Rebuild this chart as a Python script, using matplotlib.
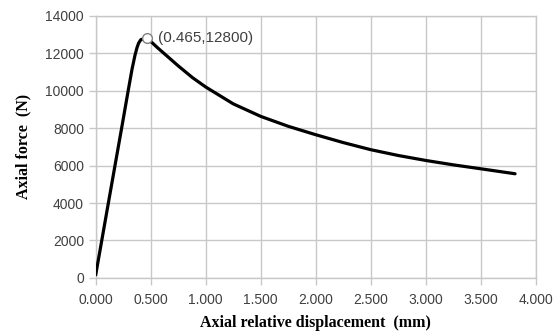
import matplotlib.pyplot as plt

# displacement (mm) and axial force (N)
disp = [0.0, 0.115, 0.24, 0.295, 0.33, 0.357, 0.375, 0.39, 0.41, 0.44, 0.465,
        0.49, 0.52, 0.56, 0.63, 0.75, 0.88, 1.00, 1.25, 1.50, 1.75,
        2.00, 2.25, 2.50, 2.75, 3.00, 3.25, 3.50, 3.81]
force = [160, 4000, 8150, 10000, 11150, 11900, 12300, 12550, 12730, 12790, 12800,
         12690, 12530, 12310, 11950, 11330, 10700, 10200, 9300, 8630, 8100,
         7650, 7230, 6850, 6540, 6275, 6040, 5830, 5565]

peak_x, peak_y = 0.465, 12800

xticks = [0, 0.5, 1.0, 1.5, 2.0, 2.5, 3.0, 3.5, 4.0]
yticks = list(range(0, 14001, 2000))

fig = plt.figure(figsize=(5.58, 3.32), dpi=100)
ax = fig.add_axes([0.1715, 0.163, 0.789, 0.789])

ax.plot(disp, force, color='black', lw=2.3, solid_capstyle='round',
        solid_joinstyle='round', zorder=3)
ax.plot([peak_x], [peak_y], 'o', ms=7, mfc='white', mec='#808080', mew=1, zorder=4)
ax.annotate('(0.465,12800)', (peak_x, peak_y), xytext=(8, 0), textcoords='offset points',
            va='center', ha='left', fontsize=11, color='#404040', family='Liberation Sans')

ax.set_xlim(0, 4.0)
ax.set_ylim(0, 14000)
ax.set_xticks(xticks)
ax.set_yticks(yticks)
ax.set_xticklabels(['%.3f' % v for v in xticks])
ax.set_yticklabels([str(v) for v in yticks])
ax.grid(True, color='#c8c8c8', lw=1)
ax.set_axisbelow(True)
for s in ax.spines.values():
    s.set_color('#c8c8c8')
    s.set_linewidth(1)
ax.tick_params(colors='#c8c8c8', length=5, width=1, labelcolor='#404040', labelsize=10)
ax.tick_params(axis='x', pad=6)
for lab in ax.get_xticklabels() + ax.get_yticklabels():
    lab.set_family('Liberation Sans')

ax.set_xlabel('Axial relative displacement  (mm)', family='Liberation Serif',
              weight='bold', fontsize=11.5, labelpad=6)
ax.set_ylabel('Axial force  (N)', family='Liberation Serif',
              weight='bold', fontsize=11.5, labelpad=10)

fig.savefig('out.png', dpi=100)
